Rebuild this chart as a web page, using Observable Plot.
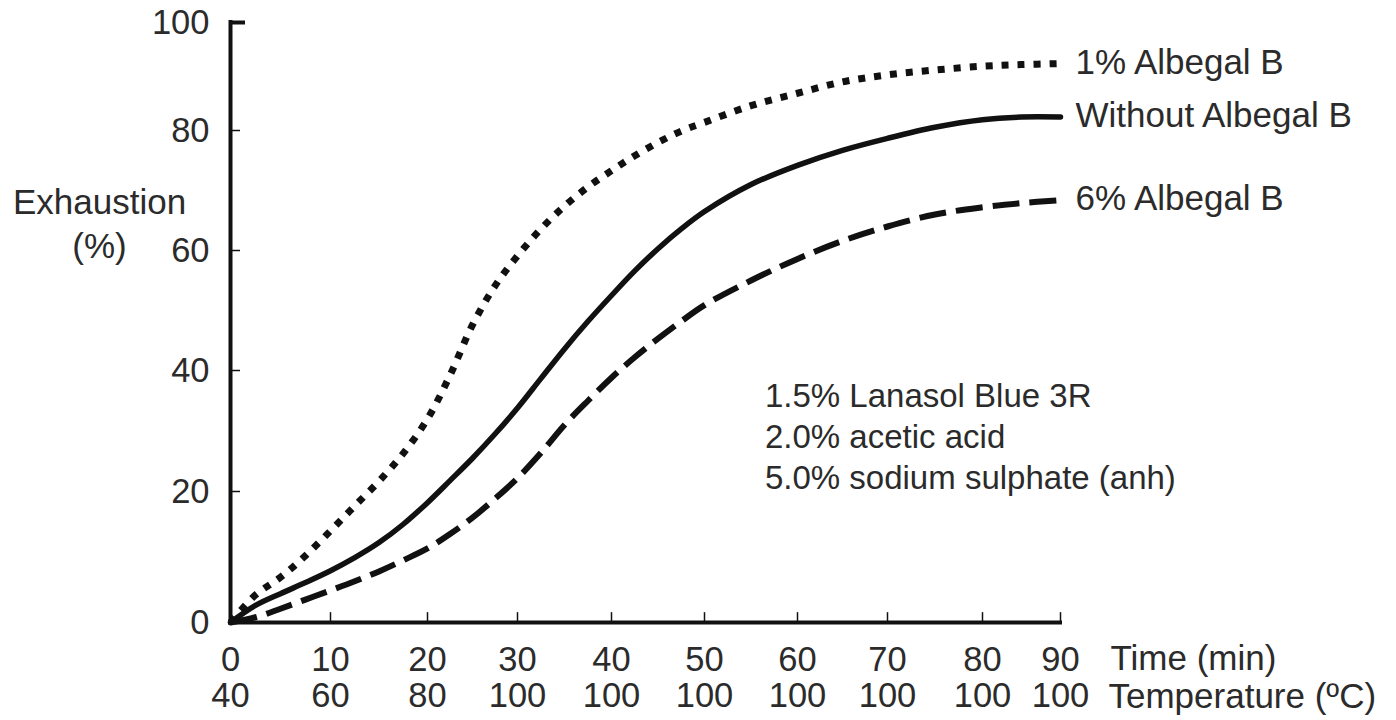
<!DOCTYPE html>
<html>
<head>
<meta charset="utf-8">
<script src="https://cdn.jsdelivr.net/npm/d3@7"></script>
<script src="https://cdn.jsdelivr.net/npm/@observablehq/plot@0.6"></script>
<style>
  html, body { margin: 0; padding: 0; background: #fff; }
  svg { display: block; }
</style>
</head>
<body>
<div id="chart"></div>
<script>
// ---- data ----
const time = [0, 2.5, 5, 7.5, 10, 12.5, 15, 17.5, 20, 22.5, 25, 27.5, 30, 32.5, 35, 37.5, 40, 42.5, 45, 47.5, 50, 55, 60, 65, 70, 75, 80, 85, 90];
const albegal1 = [0, 4.2, 6.9, 10.2, 14.0, 17.8, 21.7, 26.3, 32.0, 39.2, 47.6, 54.1, 59.1, 63.6, 67.4, 70.6, 73.3, 75.8, 78.0, 79.9, 81.5, 84.6, 86.9, 89.0, 90.3, 91.2, 91.9, 92.2, 92.4];
const without = [0, 2.6, 4.4, 6.1, 7.9, 9.9, 12.2, 15.0, 18.3, 21.8, 25.5, 29.5, 33.8, 38.7, 43.6, 48.2, 52.5, 56.6, 60.3, 63.6, 66.5, 71.0, 74.2, 76.7, 78.7, 80.6, 82.0, 82.5, 82.5];
const albegal6 = [0, 0.8, 2.1, 3.5, 4.9, 6.3, 7.8, 9.5, 11.3, 13.5, 16.0, 18.9, 22.2, 26.4, 31.0, 35.0, 38.8, 42.2, 45.3, 48.2, 50.9, 55.0, 58.6, 61.6, 64.0, 66.0, 67.2, 67.9, 68.4];
const seriesNames = ["1% Albegal B", "Without Albegal B", "6% Albegal B"];
const timeTicks = [0, 10, 20, 30, 40, 50, 60, 70, 80, 90];
const tempLabels = ["40", "60", "80", "100", "100", "100", "100", "100", "100", "100"];
const yTicks = [0, 20, 40, 60, 80, 100];
const recipe = ["1.5% Lanasol Blue 3R", "2.0% acetic acid", "5.0% sodium sulphate (anh)"];

// ---- build tables ----
const rows = (vals) => time.map((t, i) => ({t, v: vals[i]}));
const dotted = rows(albegal1), solid = rows(without), dashed = rows(albegal6);
const last = (a) => a[a.length - 1];
const endLabels = [
  {t: 90, v: last(albegal1), name: seriesNames[0]},
  {t: 90, v: last(without), name: seriesNames[1]},
  {t: 90, v: last(albegal6), name: seriesNames[2]}
];

const ink = "#111";
const textInk = "#2b2b2b";
const font = "'Liberation Sans', Arial, sans-serif";

const chart = Plot.plot({
  width: 1396,
  height: 720,
  style: {background: "#fff", fontFamily: font},
  x: {type: "linear", domain: timeTicks, range: [230, 330, 427, 517, 611, 704, 797, 887, 982, 1060], axis: null},
  y: {type: "linear", domain: yTicks, range: [622, 491, 370, 250, 130, 22], axis: null},
  marks: [
    // axes
    Plot.ruleY([0], {x1: 0, x2: 90, stroke: ink, strokeWidth: 4, strokeLinecap: "square"}),
    Plot.ruleX([0], {y1: 0, y2: 100, stroke: ink, strokeWidth: 4, strokeLinecap: "square"}),
    Plot.ruleY(yTicks.filter(v => v > 0 && v < 100), {x1: 0, x2: 1, stroke: ink, strokeWidth: 1.5}),
    Plot.ruleY([100], {x1: 0, x2: 1.5, stroke: ink, strokeWidth: 4}),
    Plot.ruleX(timeTicks.filter(v => v > 0), {y1: 0, y2: 1.5, stroke: ink, strokeWidth: 1.5}),
    // tick labels
    Plot.text(yTicks, {x: 0, y: d => d, text: d => String(d), dx: -21, textAnchor: "end", lineAnchor: "middle", fontSize: 34.5, fill: textInk}),
    Plot.text(timeTicks, {x: d => d, y: 0, text: d => String(d), dy: 37, lineAnchor: "middle", fontSize: 34.5, fill: textInk}),
    Plot.text(timeTicks, {x: d => d, y: 0, text: (d, i) => tempLabels[i], dy: 73, lineAnchor: "middle", fontSize: 34.5, fill: textInk}),
    Plot.text(["Time (min)"], {x: 90, y: 0, text: d => d, dx: 50, dy: 36, textAnchor: "start", lineAnchor: "middle", fontSize: 35, fill: textInk}),
    Plot.text(["Temperature (\u00BAC)"], {x: 90, y: 0, text: d => d, dx: 48, dy: 74, textAnchor: "start", lineAnchor: "middle", fontSize: 35, fill: textInk}),
    Plot.text(["Exhaustion\n(%)"], {x: 0, y: 60, text: d => d, dx: -131, dy: -29, lineHeight: 44 / 35, textAnchor: "middle", lineAnchor: "middle", fontSize: 35, fill: textInk}),
    // curves
    Plot.line(dotted, {x: "t", y: "v", curve: "catmull-rom", stroke: ink, strokeWidth: 7, strokeDasharray: "7,9", strokeLinecap: "butt"}),
    Plot.line(solid, {x: "t", y: "v", curve: "catmull-rom", stroke: ink, strokeWidth: 5.5}),
    Plot.line(dashed, {x: "t", y: "v", curve: "catmull-rom", stroke: ink, strokeWidth: 6, strokeDasharray: "27,10", strokeLinecap: "butt"}),
    // series labels
    Plot.text(endLabels, {x: "t", y: "v", text: "name", dx: 15, dy: -1, textAnchor: "start", lineAnchor: "middle", fontSize: 35, fill: textInk}),
    // recipe annotation
    Plot.text([recipe.join("\n")], {x: 56.5, y: 29.3, text: d => d, textAnchor: "start", lineAnchor: "middle", lineHeight: 41 / 33, fontSize: 33, fill: textInk})
  ]
});
document.getElementById("chart").appendChild(chart);
</script>
</body>
</html>
